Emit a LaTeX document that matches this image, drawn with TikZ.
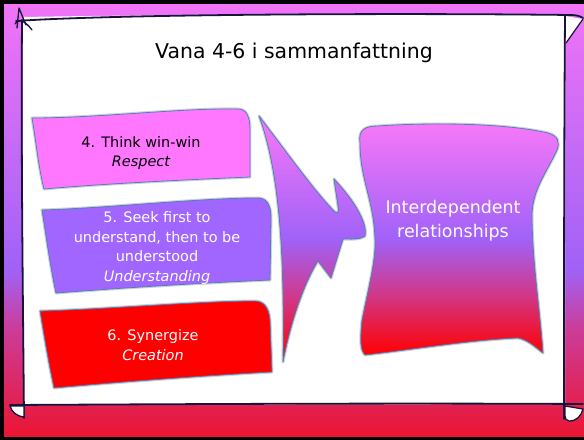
\documentclass[tikz,border=0pt]{standalone}
\usepackage{fontspec}
\setmainfont{DejaVu Sans}

\definecolor{bgtop}{HTML}{F274F6}
\definecolor{bgviolet}{HTML}{A062F6}
\definecolor{bgrose}{HTML}{CC3C98}
\definecolor{bgbot}{HTML}{EC1430}
\definecolor{ink}{HTML}{14143C}
\definecolor{edge}{HTML}{4F7FBD}
\definecolor{pinkbox}{HTML}{FF77FF}
\definecolor{violetbox}{HTML}{A066FF}
\definecolor{redbox}{HTML}{FF0000}
\definecolor{shtop}{HTML}{F878F8}
\definecolor{shmid}{HTML}{A062F8}
\definecolor{shrose}{HTML}{D03888}

% shapes on the right: pink top, violet middle, red bottom
\pgfdeclareverticalshading{shapefade}{100bp}{color(0bp)=(redbox); color(25bp)=(redbox); color(38bp)=(shrose); color(50bp)=(shmid); color(75bp)=(shtop); color(100bp)=(shtop)}

\tikzset{
  scrollline/.style={draw=ink, line width=1.8pt, line cap=round, line join=round},
  boxedge/.style={draw=edge, line width=0.8pt, line join=round},
  halo/.style={draw=black!18, line width=3pt, line join=round},
  label/.style={align=center, font=\fontsize{14.5}{19.7}\selectfont, inner sep=0pt},
}

\begin{document}
\begin{tikzpicture}[x=1bp, y=-1bp]
\useasboundingbox (0,0) rectangle (584,440);
\begin{scope}
\clip (0,0) rectangle (584,440);
% background: bands blending magenta -> violet -> rose -> red
\foreach \k in {0,...,134} {
  \pgfmathsetmacro\p{100-\k/134*100}
  \fill[bgtop!\p!bgviolet] (-10,2*\k) rectangle (600,2*\k+2.4);
}
\foreach \k in {0,...,29} {
  \pgfmathsetmacro\p{100-\k/29*100}
  \fill[bgviolet!\p!bgrose] (-10,270+2*\k) rectangle (600,272.4+2*\k);
}
\foreach \k in {0,...,54} {
  \pgfmathsetmacro\p{100-\k/54*100}
  \fill[bgrose!\p!bgbot] (-10,330+2*\k) rectangle (600,332.4+2*\k);
}
\end{scope}
% black rim on the left, top and bottom
\fill[black] (0,0) rectangle (584,4);
\fill[black] (0,0) rectangle (4,440);
\fill[black] (0,437) rectangle (584,440);

% white sheet of the scroll
\fill[white] (23,17) .. controls (200,14) and (400,14) .. (565,15) -- (565,404) -- (23,405) -- cycle;

% scroll edges
\draw[scrollline] (16,21) .. controls (120,14) and (400,13) .. (570,15) .. controls (576,15) and (580,16) .. (583,18);
\fill[white] (565,16) -- (583,19) -- (566,43) -- cycle;
\draw[scrollline, line width=1.2pt] (583,19) -- (566,43);
\draw[scrollline] (22,20) .. controls (21,150) and (23,300) .. (24,418);
\draw[scrollline] (565,15) .. controls (564,150) and (564,300) .. (564,419);
\draw[scrollline] (10,405) .. controls (200,404) and (400,403) .. (583,404);
% curled corners
\draw[scrollline, line width=1.3pt] (17,28) -- (19,8) -- (26,25);
\draw[scrollline, line width=1.3pt] (15,24) .. controls (17,19) and (24,19) .. (32,30);
\filldraw[fill=white, scrollline, line width=1.3pt] (10,406) .. controls (12,412) and (16,416) .. (24,417) -- (24,406) -- cycle;
\filldraw[fill=white, scrollline, line width=1.3pt] (565,406) -- (583,409) .. controls (581,416) and (577,421) .. (569,421) .. controls (566,420) and (565,419) .. (565,416) -- cycle;

% title
\node (title) at (294,53) {\fontsize{20.5}{24}\selectfont Vana 4-6 i sammanfattning};

% habit 4
\path[halo] (32,118) .. controls (100,118) and (180,108) .. (238,109) .. controls (246,109) and (250,116) .. (250,130) -- (250,177) .. controls (180,180) and (100,184) .. (44,189) .. controls (38,165) and (36,140) .. (32,118) -- cycle;
\path[boxedge, fill=pinkbox] (32,118) .. controls (100,118) and (180,108) .. (238,109) .. controls (246,109) and (250,116) .. (250,130) -- (250,177) .. controls (180,180) and (100,184) .. (44,189) .. controls (38,165) and (36,140) .. (32,118) -- cycle;
\node[label, text=black] (h4) at (141,153) {4. Think win-win\\\itshape Respect};

% habit 5
\path[halo] (42,210) .. controls (110,208) and (200,198) .. (258,198) .. controls (266,198) and (271,204) .. (271,218) -- (270,280) .. controls (200,283) and (120,288) .. (56,293) .. controls (50,265) and (46,235) .. (42,210) -- cycle;
\path[boxedge, fill=violetbox] (42,210) .. controls (110,208) and (200,198) .. (258,198) .. controls (266,198) and (271,204) .. (271,218) -- (270,280) .. controls (200,283) and (120,288) .. (56,293) .. controls (50,265) and (46,235) .. (42,210) -- cycle;
\node[label, text=white] (h5) at (157,248) {5. Seek first to\\understand, then to be\\understood\\\itshape Understanding};

% habit 6
\path[halo] (40,311) .. controls (110,309) and (200,301) .. (255,301) .. controls (264,301) and (269,308) .. (270,320) -- (272,372) .. controls (200,376) and (120,382) .. (54,388) .. controls (48,360) and (44,335) .. (40,311) -- cycle;
\path[boxedge, fill=redbox] (40,311) .. controls (110,309) and (200,301) .. (255,301) .. controls (264,301) and (269,308) .. (270,320) -- (272,372) .. controls (200,376) and (120,382) .. (54,388) .. controls (48,360) and (44,335) .. (40,311) -- cycle;
\node[label, text=white] (h6) at (153,345) {6. Synergize\\\itshape Creation};

% barbed arrow
\path[halo] (259,116) .. controls (285,150) and (315,192) .. (335,212) .. controls (338,214) and (339,212) .. (338,206) -- (334,179) .. controls (352,198) and (368,222) .. (365,236) .. controls (360,240) and (350,239) .. (343,239) -- (331,278) -- (318,261) .. controls (303,285) and (290,325) .. (283,362) .. controls (284,280) and (283,180) .. (259,116) -- cycle;
\shade[shading=shapefade, boxedge] (259,116) .. controls (285,150) and (315,192) .. (335,212) .. controls (338,214) and (339,212) .. (338,206) -- (334,179) .. controls (352,198) and (368,222) .. (365,236) .. controls (360,240) and (350,239) .. (343,239) -- (331,278) -- (318,261) .. controls (303,285) and (290,325) .. (283,362) .. controls (284,280) and (283,180) .. (259,116) -- cycle;

% result
\path[halo] (360,143) .. controls (358,130) and (365,126) .. (378,126) .. controls (420,123) and (500,122) .. (548,133) .. controls (558,136) and (560,142) .. (557,150) .. controls (548,170) and (532,190) .. (532,215) .. controls (532,260) and (540,310) .. (543,353) .. controls (535,347) and (528,340) .. (518,338) .. controls (470,340) and (410,350) .. (365,355) .. controls (360,350) and (360,340) .. (362,320) .. controls (368,290) and (376,260) .. (375,240) .. controls (374,200) and (360,180) .. (360,143) -- cycle;
\shade[shading=shapefade, boxedge] (360,143) .. controls (358,130) and (365,126) .. (378,126) .. controls (420,123) and (500,122) .. (548,133) .. controls (558,136) and (560,142) .. (557,150) .. controls (548,170) and (532,190) .. (532,215) .. controls (532,260) and (540,310) .. (543,353) .. controls (535,347) and (528,340) .. (518,338) .. controls (470,340) and (410,350) .. (365,355) .. controls (360,350) and (360,340) .. (362,320) .. controls (368,290) and (376,260) .. (375,240) .. controls (374,200) and (360,180) .. (360,143) -- cycle;
\node[label, text=white, font=\fontsize{17.5}{24}\selectfont] (result) at (453,221) {Interdependent\\relationships};
\end{tikzpicture}
\end{document}
